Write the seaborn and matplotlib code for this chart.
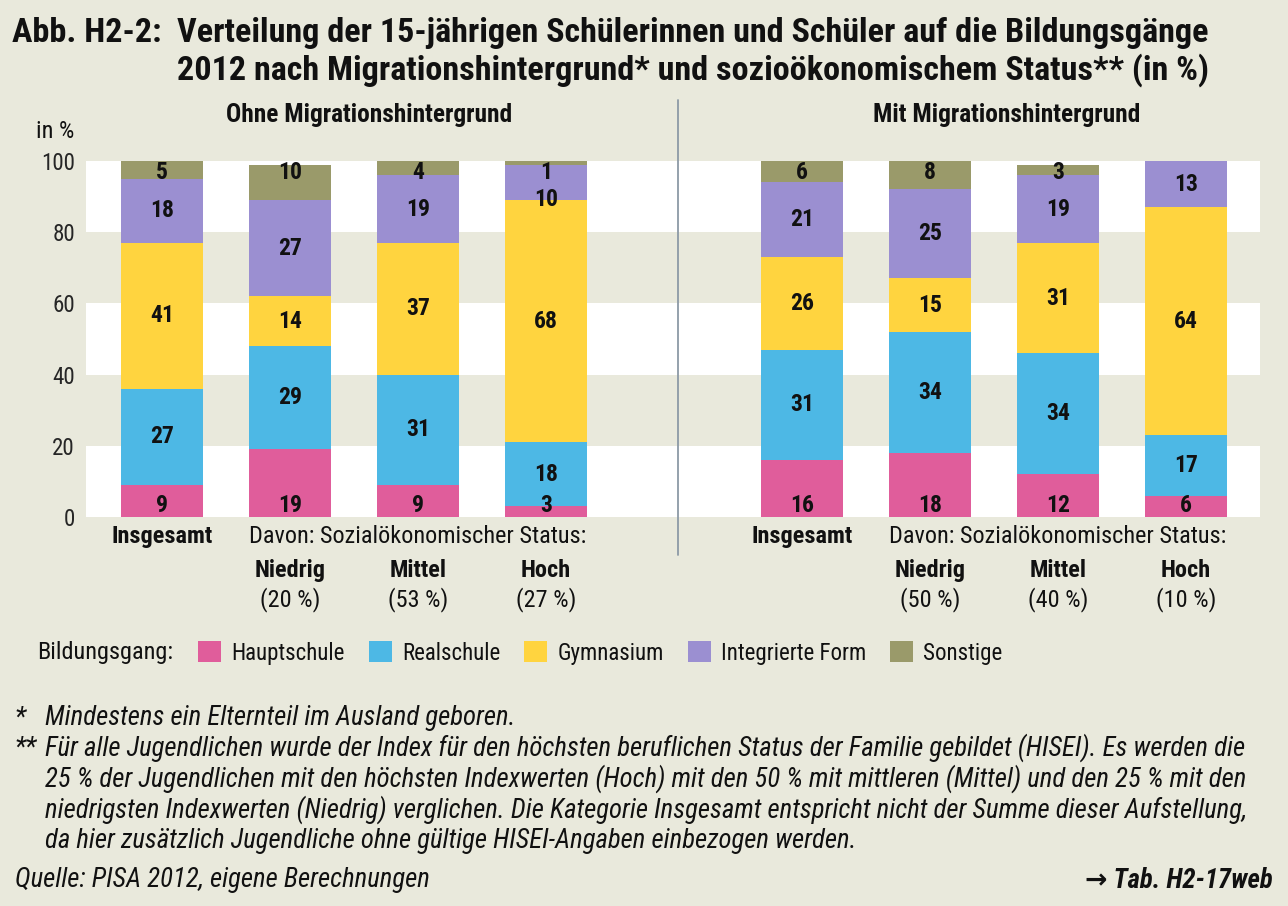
import pandas as pd
import numpy as np
import matplotlib
matplotlib.use('Agg')
import matplotlib.pyplot as plt
from matplotlib import font_manager
from matplotlib.patches import Patch
import seaborn as sns

# Data (bottom to top: Hauptschule, Realschule, Gymnasium, Integrierte Form, Sonstige)
programmes = ['Hauptschule', 'Realschule', 'Gymnasium', 'Integrierte Form', 'Sonstige']
colors = ['#e05d9b', '#4db8e5', '#ffd43f', '#9b8fd1', '#9a9a6a']

groups = ['Insgesamt', 'Niedrig', 'Mittel', 'Hoch']
status_share_ohne = ['(20 %)', '(53 %)', '(27 %)']
status_share_mit = ['(50 %)', '(40 %)', '(10 %)']

hauptschule_ohne = [9, 19, 9, 3]
realschule_ohne = [27, 29, 31, 18]
gymnasium_ohne = [41, 14, 37, 68]
integriert_ohne = [18, 27, 19, 10]
sonstige_ohne = [5, 10, 4, 1]

hauptschule_mit = [16, 18, 12, 6]
realschule_mit = [31, 34, 34, 17]
gymnasium_mit = [26, 15, 31, 64]
integriert_mit = [21, 25, 19, 13]
sonstige_mit = [6, 8, 3, 0]

# pick a condensed face if one is installed
narrow = None
for f in font_manager.fontManager.ttflist:
    if f.name in ('Roboto Condensed', 'Open Sans Condensed', 'Liberation Sans Narrow'):
        narrow = (f.name, 'normal')
        break
if narrow is None:
    for fam in ['DejaVu Sans', 'Noto Sans', 'Open Sans', 'Roboto']:
        if any(f.name == fam and f.stretch in ('condensed', 'semi-condensed')
               for f in font_manager.fontManager.ttflist):
            narrow = (fam, 'condensed')
            break
if narrow is None:
    narrow = ('DejaVu Sans', 'normal')

bg = '#e9e9dc'
sns.set_theme(style='white')
plt.rcParams['font.family'] = [narrow[0], 'DejaVu Sans']
plt.rcParams['font.stretch'] = narrow[1]
plt.rcParams['text.color'] = '#111111'

rows = []
for panel, vals in [('ohne', [hauptschule_ohne, realschule_ohne, gymnasium_ohne, integriert_ohne, sonstige_ohne]),
                    ('mit', [hauptschule_mit, realschule_mit, gymnasium_mit, integriert_mit, sonstige_mit])]:
    for p, series in zip(programmes, vals):
        for g, v in zip(groups, series):
            rows.append({'panel': panel, 'group': g, 'key': panel + '_' + g, 'programme': p, 'value': v})
df = pd.DataFrame(rows)
df['programme'] = pd.Categorical(df['programme'], programmes, ordered=True)
df = df.sort_values(['key', 'programme'])
df['top'] = df.groupby('key')['value'].cumsum()
df['bottom'] = df['top'] - df['value']

order = ['ohne_' + g for g in groups] + ['gap'] + ['mit_' + g for g in groups]

W, H = 1288, 906
fig = plt.figure(figsize=(W / 100, H / 100), dpi=100, facecolor=bg)
renderer = fig.canvas.get_renderer()


def px(x, y):
    return x / W, 1 - y / H


def fit_size(s, target, size=15, **kw):
    # font size that makes text s about target pixels wide
    t = fig.text(0, 0, s, fontsize=size, **kw)
    w = t.get_window_extent(renderer).width
    t.remove()
    return size * target / w


ax = fig.add_axes([86 / W, 1 - 517 / H, 1174 / W, 356 / H])
ax.set_facecolor(bg)
for lo in [0, 40, 80]:
    ax.axhspan(lo, lo + 20, color='white', zorder=0, lw=0)

# stacked bars: draw cumulative totals from the top segment down
for p, c in reversed(list(zip(programmes, colors))):
    sub = df[df['programme'] == p]
    sns.barplot(data=sub, x='key', y='top', order=order, color=c, width=0.64,
                linewidth=0, errorbar=None, saturation=1, ax=ax, zorder=2)

ax.set_xlim(-0.594, 8.58)
ax.set_ylim(0, 100)
ax.set_yticks([0, 20, 40, 60, 80, 100])
ax.set_yticklabels(['0', '20', '40', '60', '80', '100'], fontsize=fit_size('100', 34))
ax.tick_params(axis='y', length=0, pad=8)
ax.set_xticks([])
ax.set_xlabel('')
ax.set_ylabel('')
for s in ax.spines.values():
    s.set_visible(False)

# value labels
val_size = fit_size('41', 24, fontweight='bold')
pos = {k: i for i, k in enumerate(order)}
for key, g in df.groupby('key'):
    x = pos[key]
    recs = g.set_index('programme')
    son = recs.loc['Sonstige']
    for p in programmes:
        r = recs.loc[p]
        if r['value'] == 0:
            continue
        if p == 'Hauptschule':
            y = 3.2
        elif p == 'Sonstige':
            y = 96.8
        else:
            y = (r['bottom'] + r['top']) / 2
            if p == 'Integrierte Form' and son['value'] > 0 and abs(96.8 - y) < 6:
                y = 96.8 - 7.5
        ax.text(x, y, str(int(r['value'])), ha='center', va='center', fontsize=val_size,
                fontweight='bold', zorder=5)

# divider
ax.axvline(4.03, ymin=-0.107, ymax=1.171, color='#8c9aa6', lw=1.3, clip_on=False)

# panel titles
trans = ax.get_xaxis_transform()
head_size = fit_size('Ohne Migrationshintergrund', 286, fontweight='bold')
ax.text(1.62, 1.129, 'Ohne Migrationshintergrund', transform=trans, ha='center', va='center',
        fontsize=head_size, fontweight='bold')
ax.text(6.6, 1.129, 'Mit Migrationshintergrund', transform=trans, ha='center', va='center',
        fontsize=head_size, fontweight='bold')

# category labels
lab_size = fit_size('Davon: Sozialökonomischer Status:', 337)
for offset, shares in [(0, status_share_ohne), (5, status_share_mit)]:
    ax.text(offset, -0.056, 'Insgesamt', transform=trans, ha='center', va='center',
            fontsize=lab_size, fontweight='bold')
    ax.text(offset + 2, -0.056, 'Davon: Sozialökonomischer Status:', transform=trans,
            ha='center', va='center', fontsize=lab_size)
    for i, (g, s) in enumerate(zip(groups[1:], shares)):
        ax.text(offset + 1 + i, -0.149, g, transform=trans, ha='center', va='center',
                fontsize=lab_size, fontweight='bold')
        ax.text(offset + 1 + i, -0.233, s, transform=trans, ha='center', va='center',
                fontsize=lab_size)

fig.text(*px(36, 131), 'in %', ha='left', va='center', fontsize=lab_size)

# title
title1 = 'Verteilung der 15-jährigen Schülerinnen und Schüler auf die Bildungsgänge'
title2 = '2012 nach Migrationshintergrund* und sozioökonomischem Status** (in %)'
tsize = fit_size(title1, 1031, fontweight='bold')
fig.text(*px(12, 33), 'Abb. H2-2:', ha='left', va='center', fontsize=tsize, fontweight='bold')
fig.text(*px(177, 33), title1, ha='left', va='center', fontsize=tsize, fontweight='bold')
fig.text(*px(177, 70), title2, ha='left', va='center', fontsize=tsize, fontweight='bold')

# legend
fig.text(*px(37, 653), 'Bildungsgang:', ha='left', va='center', fontsize=lab_size)
handles = [Patch(facecolor=c, edgecolor='none') for c in colors]
leg_kw = dict(loc='center left', bbox_to_anchor=px(198, 653), ncol=5, frameon=False,
              handlelength=1.0, handleheight=1.0, handletextpad=0.45,
              columnspacing=1.05, borderaxespad=0, borderpad=0)
leg = fig.legend(handles, programmes, fontsize=lab_size, **leg_kw)
lw = leg.get_window_extent(renderer).width
leg.remove()
fig.legend(handles, programmes, fontsize=lab_size * 805 / lw, **leg_kw)

# footnotes
notes = [
    (718, '*', 'Mindestens ein Elternteil im Ausland geboren.'),
    (748, '**', 'Für alle Jugendlichen wurde der Index für den höchsten beruflichen Status der Familie gebildet (HISEI). Es werden die'),
    (779, '', '25 % der Jugendlichen mit den höchsten Indexwerten (Hoch) mit den 50 % mit mittleren (Mittel) und den 25 % mit den'),
    (810, '', 'niedrigsten Indexwerten (Niedrig) verglichen. Die Kategorie Insgesamt entspricht nicht der Summe dieser Aufstellung,'),
    (841, '', 'da hier zusätzlich Jugendliche ohne gültige HISEI-Angaben einbezogen werden.'),
]
nsize = fit_size(notes[2][2], 1203, style='italic')
for y, mark, txt in notes:
    if mark:
        fig.text(*px(15, y), mark, ha='left', va='center', fontsize=nsize, style='italic')
    fig.text(*px(45, y), txt, ha='left', va='center', fontsize=nsize, style='italic')
fig.text(*px(15, 880), 'Quelle: PISA 2012, eigene Berechnungen', ha='left', va='center',
         fontsize=nsize, style='italic')
fig.text(*px(1273, 880), '→ Tab. H2-17web', ha='right', va='center', fontsize=nsize,
         style='italic', fontweight='bold')

fig.savefig('out.png', dpi=100, facecolor=bg)
